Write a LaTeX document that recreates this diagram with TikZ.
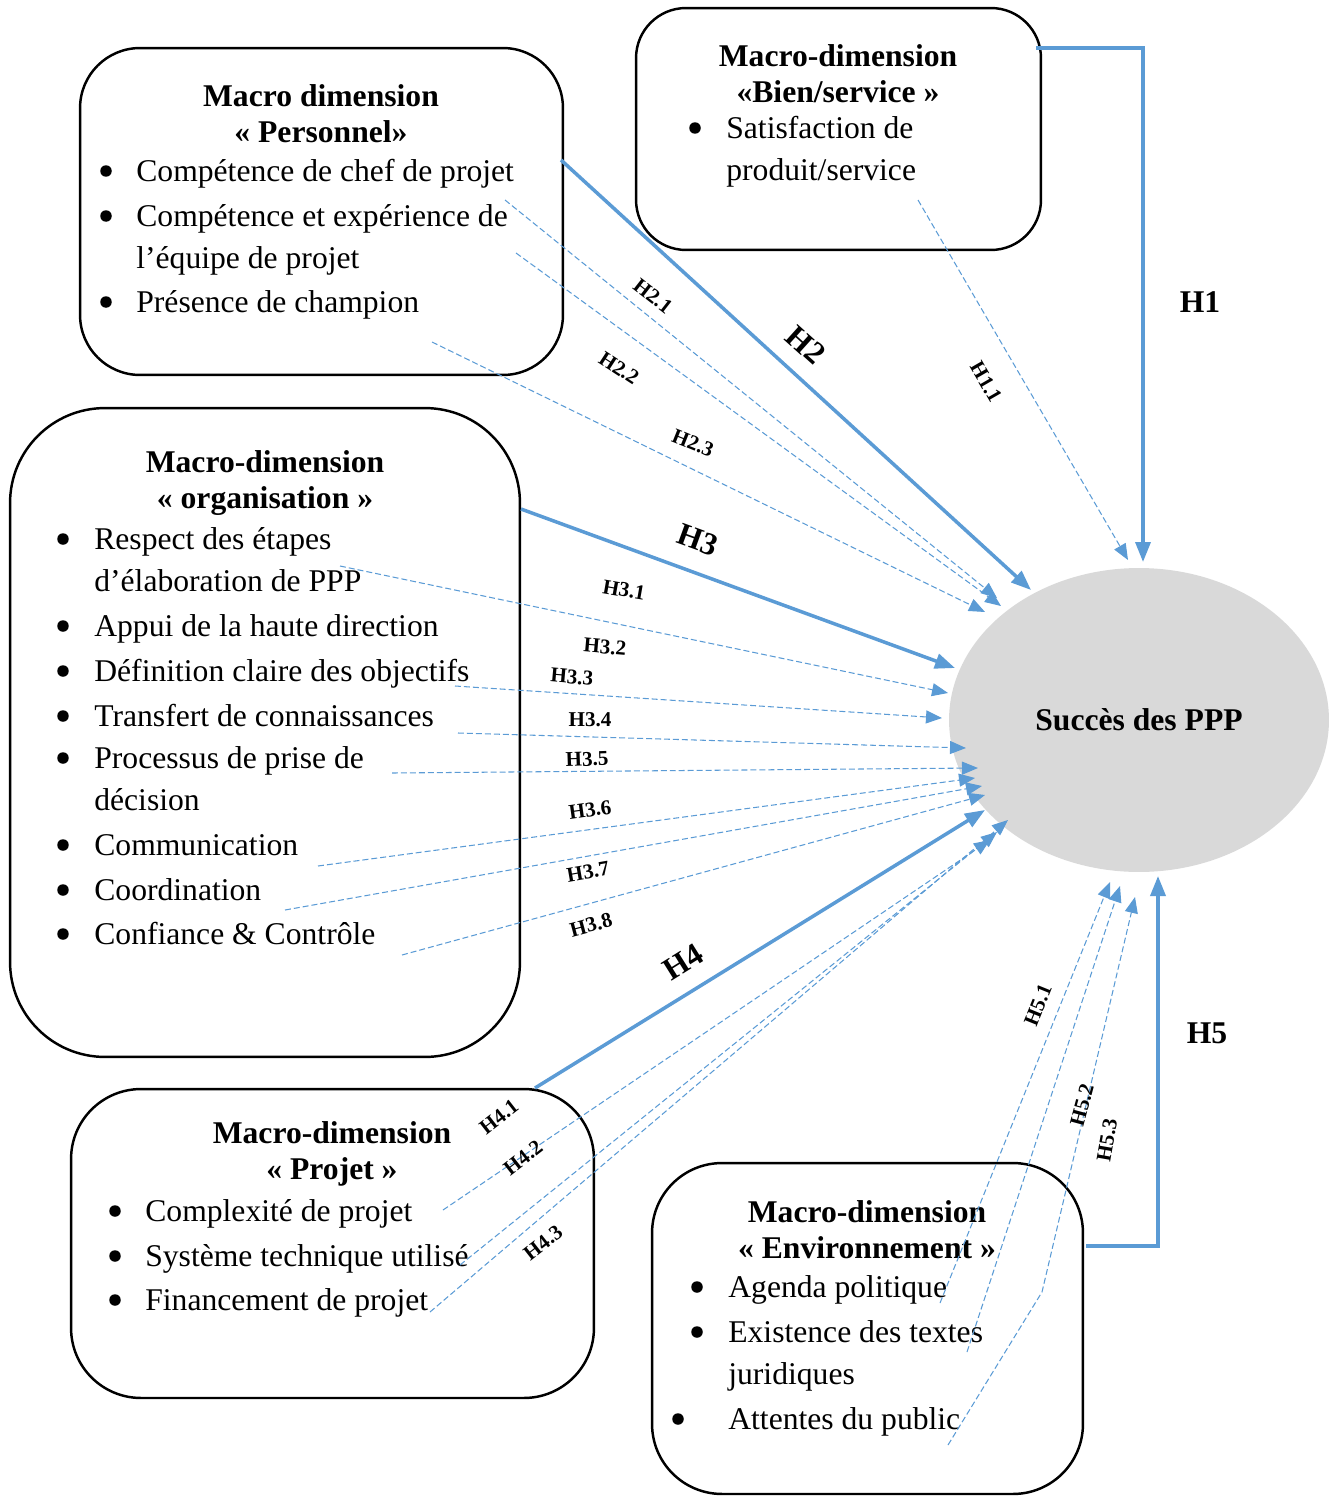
\documentclass[tikz,border=0pt]{standalone}
\usepackage{fontspec}
\setmainfont{Liberation Serif}
\usetikzlibrary{shapes.geometric,positioning,arrows.meta}
\definecolor{hypblue}{HTML}{5B9BD5}
\definecolor{succgray}{HTML}{D9D9D9}

\begin{document}
\begin{tikzpicture}[x=0.02cm, y=-0.02cm,
  dimbox/.style={draw, line width=1.4pt, rectangle, inner sep=0pt, rounded corners=#1},
  head/.style={font=\bfseries\fontsize{18}{20.5}\selectfont, align=center, inner sep=0pt},
  item/.style={font=\fontsize{18}{22}\selectfont, anchor=base west, inner sep=0pt},
  dot/.style={circle, fill=black, inner sep=0pt, minimum size=0.23cm},
  hlab/.style={font=\bfseries\fontsize{18}{20}\selectfont, inner sep=1pt},
  slab/.style={font=\bfseries\fontsize{12}{14}\selectfont, inner sep=1pt},
  mainarr/.style={color=hypblue, line width=2pt, -{Triangle[length=4mm,width=3mm]}},
  subarr/.style={color=hypblue, line width=0.6pt, dash pattern=on 3.4pt off 1.7pt,
                 -{Triangle[length=3.2mm,width=2.6mm]}}]
\useasboundingbox (0,0) rectangle (1336,1497);

% the five macro-dimension boxes and the target
\node[dimbox=1.2cm, minimum width=9.66cm, minimum height=6.54cm] (pers) at (321.5,211.5) {};
\node[dimbox=1cm, minimum width=8.1cm, minimum height=4.84cm] (bien) at (838.5,129) {};
\node[dimbox=1.9cm, minimum width=10.2cm, minimum height=12.98cm] (orga) at (265,732.5) {};
\node[dimbox=1.4cm, minimum width=10.46cm, minimum height=6.18cm] (proj) at (332.5,1243.5) {};
\node[dimbox=1.4cm, minimum width=8.62cm, minimum height=6.62cm] (envi) at (867.5,1328.5) {};
\node[ellipse, fill=succgray, minimum width=7.6cm, minimum height=6.08cm, inner sep=0pt,
      font=\bfseries\fontsize{18}{20}\selectfont] (succ) at (1139,720) {Succès des PPP};

% Personnel
\node[head] (pershead) at (321,114) {Macro dimension\\« Personnel»};
\node[dot] (pb1) at (106,171) {};
\node[item] (pi1) at (136,181) {Compétence de chef de projet};
\node[dot] (pb2) at (106,216) {};
\node[item] (pi2) at (136,226) {Compétence et expérience de};
\node[item] (pi2b) at (136,268) {l’équipe de projet};
\node[dot] (pb3) at (106,302) {};
\node[item] (pi3) at (136,312) {Présence de champion};

% Bien/service
\node[head] (bienhead) at (838,74) {Macro-dimension\\«Bien/service »};
\node[dot] (bb1) at (695,128) {};
\node[item] (bi1) at (726,138) {Satisfaction de};
\node[item] (bi1b) at (726,180) {produit/service};

% Organisation
\node[head] (orgahead) at (265,483) {Macro-dimension\\« organisation »};
\node[dot] (ob1) at (63,539) {};
\node[item] (oi1) at (94,549) {Respect des étapes};
\node[item] (oi1b) at (94,591) {d’élaboration de PPP};
\node[dot] (ob2) at (63,626) {};
\node[item] (oi2) at (94,636) {Appui de la haute direction};
\node[dot] (ob3) at (63,671) {};
\node[item] (oi3) at (94,681) {Définition claire des objectifs};
\node[dot] (ob4) at (63,716) {};
\node[item] (oi4) at (94,726) {Transfert de connaissances};
\node[dot] (ob5) at (63,758) {};
\node[item] (oi5) at (94,768) {Processus de prise de};
\node[item] (oi5b) at (94,810) {décision};
\node[dot] (ob6) at (63,845) {};
\node[item] (oi6) at (94,855) {Communication};
\node[dot] (ob7) at (63,890) {};
\node[item] (oi7) at (94,900) {Coordination};
\node[dot] (ob8) at (63,934) {};
\node[item] (oi8) at (94,944) {Confiance \& Contrôle};

% Projet
\node[head] (projhead) at (332,1154) {Macro-dimension\\« Projet »};
\node[dot] (jb1) at (115,1211) {};
\node[item] (ji1) at (145,1221) {Complexité de projet};
\node[dot] (jb2) at (115,1256) {};
\node[item] (ji2) at (145,1266) {Système technique utilisé};
\node[dot] (jb3) at (115,1300) {};
\node[item] (ji3) at (145,1310) {Financement de projet};

% Environnement
\node[head] (envihead) at (867,1230) {Macro-dimension\\« Environnement »};
\node[dot] (eb1) at (697,1287) {};
\node[item] (ei1) at (728,1297) {Agenda politique};
\node[dot] (eb2) at (697,1332) {};
\node[item] (ei2) at (728,1342) {Existence des textes};
\node[item] (ei2b) at (728,1384) {juridiques};
\node[dot] (eb3) at (678,1419) {};
\node[item] (ei3) at (728,1429) {Attentes du public};

% connector ends
\coordinate (h1s) at (1036,48);   \coordinate (h1e) at (1143,562);
\coordinate (h2s) at (561,160);   \coordinate (h2e) at (1031,590);
\coordinate (h3s) at (521,509);   \coordinate (h3e) at (955,668);
\coordinate (h4s) at (535,1088);  \coordinate (h4e) at (985,810);
\coordinate (h5s) at (1086,1246); \coordinate (h5e) at (1158,876);
\coordinate (h11s) at (918,200);  \coordinate (h11e) at (1128,560);
\coordinate (h21s) at (505,200);  \coordinate (h21e) at (997,598);
\coordinate (h22s) at (516,253);  \coordinate (h22e) at (1001,606);
\coordinate (h23s) at (432,342);  \coordinate (h23e) at (985,612);
\coordinate (h31s) at (340,566);  \coordinate (h31e) at (948,693);
\coordinate (h32s) at (455,686);  \coordinate (h32e) at (942,718);
\coordinate (h33s) at (458,733);  \coordinate (h33e) at (966,748);
\coordinate (h34s) at (392,773);  \coordinate (h34e) at (978,768);
\coordinate (h35s) at (318,866);  \coordinate (h35e) at (975,778);
\coordinate (h36s) at (285,910);  \coordinate (h36e) at (982,786);
\coordinate (h37s) at (402,955);  \coordinate (h37e) at (985,795);
\coordinate (h41s) at (443,1210); \coordinate (h41e) at (990,840);
\coordinate (h42s) at (460,1265); \coordinate (h42e) at (997,832);
\coordinate (h43s) at (430,1312); \coordinate (h43e) at (1008,820);
\coordinate (h51s) at (940,1303); \coordinate (h51e) at (1110,882);
\coordinate (h52s) at (967,1352); \coordinate (h52e) at (1120,886);
\coordinate (h53s) at (948,1445); \coordinate (h53k) at (1042,1292);
\coordinate (h53e) at (1135,897);

\draw[mainarr] (h1s) -| (h1e);
\draw[mainarr] (h2s) -- (h2e);
\draw[mainarr] (h3s) -- (h3e);
\draw[mainarr] (h4s) -- (h4e);
\draw[mainarr] (h5s) -| (h5e);

\draw[subarr] (h11s) -- (h11e);
\draw[subarr] (h21s) -- (h21e);
\draw[subarr] (h22s) -- (h22e);
\draw[subarr] (h23s) -- (h23e);
\draw[subarr] (h31s) -- (h31e);
\draw[subarr] (h32s) -- (h32e);
\draw[subarr] (h33s) -- (h33e);
\draw[subarr] (h34s) -- (h34e);
\draw[subarr] (h35s) -- (h35e);
\draw[subarr] (h36s) -- (h36e);
\draw[subarr] (h37s) -- (h37e);
\draw[subarr] (h41s) -- (h41e);
\draw[subarr] (h42s) -- (h42e);
\draw[subarr] (h43s) -- (h43e);
\draw[subarr] (h51s) -- (h51e);
\draw[subarr] (h52s) -- (h52e);
\draw[subarr] (h53s) -- (h53k) -- (h53e);

% labels
\node[hlab] (lh1) at (1200,302) {H1};
\node[hlab, rotate=-42] (lh2) at (806,345) {H2};
\node[hlab, rotate=-20] (lh3) at (698,540) {H3};
\node[hlab, rotate=32] (lh4) at (683,962) {H4};
\node[hlab] (lh5) at (1207,1033) {H5};
\node[slab, rotate=-60] (lh11) at (986,382) {H1.1};
\node[slab, rotate=-38] (lh21) at (653,296) {H2.1};
\node[slab, rotate=-33] (lh22) at (619,368) {H2.2};
\node[slab, rotate=-22] (lh23) at (693,443) {H2.3};
\node[slab, rotate=-10] (lh31) at (624,590) {H3.1};
\node[slab, rotate=-5] (lh32) at (605,647) {H3.2};
\node[slab, rotate=-5] (lh33) at (572,677) {H3.3};
\node[slab] (lh34) at (590,720) {H3.4};
\node[slab, rotate=2] (lh35) at (587,759) {H3.5};
\node[slab, rotate=8] (lh36) at (590,810) {H3.6};
\node[slab, rotate=10] (lh37) at (588,872) {H3.7};
\node[slab, rotate=15] (lh38) at (591,925) {H3.8};
\node[slab, rotate=38] (lh41) at (499,1117) {H4.1};
\node[slab, rotate=38] (lh42) at (523,1158) {H4.2};
\node[slab, rotate=38] (lh43) at (543,1243) {H4.3};
\node[slab, rotate=68] (lh51) at (1038,1005) {H5.1};
\node[slab, rotate=75] (lh52) at (1082,1105) {H5.2};
\node[slab, rotate=80] (lh53) at (1107,1140) {H5.3};
\end{tikzpicture}
\end{document}
